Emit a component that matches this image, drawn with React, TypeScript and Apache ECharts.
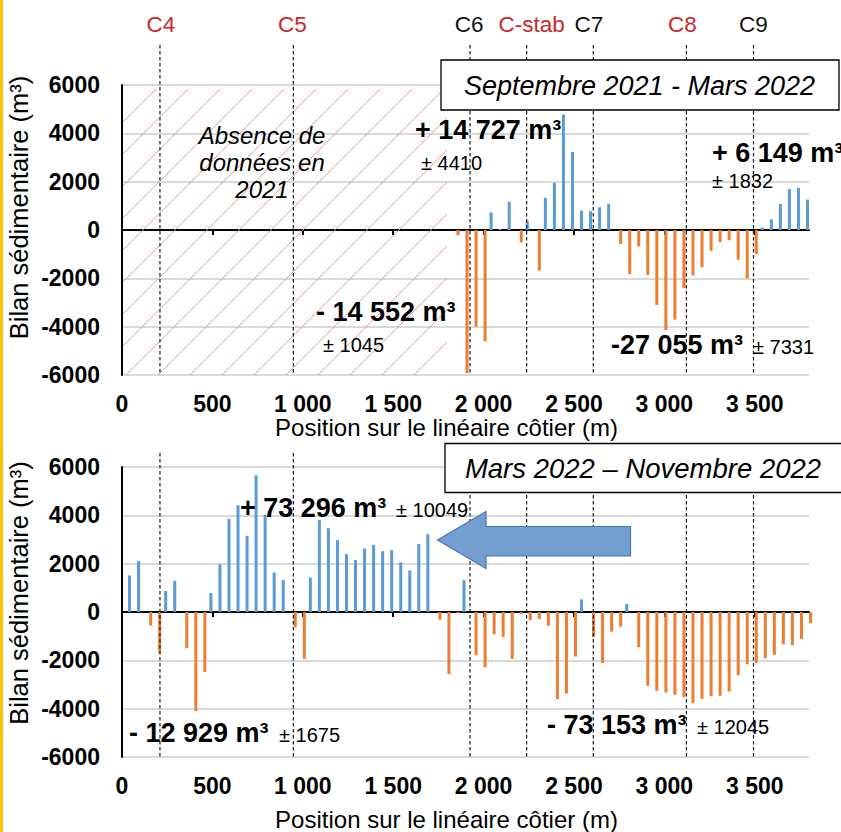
import React, { useEffect, useRef } from 'react';
import * as echarts from 'echarts';

// ---------- data ----------
const xTickValues = [0, 500, 1000, 1500, 2000, 2500, 3000, 3500];
const yMin = -6000;
const yMax = 6000;
const yInterval = 2000;

const profileNames = ['C4', 'C5', 'C6', 'C-stab', 'C7', 'C8', 'C9'];
const profilePositions = [210, 948, 1925, 2238, 2607, 3122, 3493];
const profileIsRed = [true, true, false, true, false, true, false];
const profileLabelShift = [1, -1, -1, 5, -4.5, -4, 0];

const noDataRange = [0, 1800];

// Septembre 2021 - Mars 2022
const positions1 = [
  1850, 1900, 1950, 2000, 2050, 2100, 2150, 2200, 2250, 2300,
  2350, 2400, 2450, 2500, 2550, 2600, 2650, 2700, 2750, 2800,
  2850, 2900, 2950, 3000, 3050, 3100, 3150, 3200, 3250, 3300,
  3350, 3400, 3450, 3500, 3550, 3600, 3650, 3700, 3750, 3800,
];
const balance1 = [
  -220, -5930, -4000, -4600, 730, 40, 1160, -510, 390, -1680,
  1330, 1950, 4780, 3230, 800, 780, 940, 1080, -580, -1830,
  -680, -1860, -3100, -4140, -3710, -2400, -1880, -1540, -860, -500,
  -420, -1230, -2010, -1000, 100, 440, 1080, 1690, 1745, 1260,
];

// Mars 2022 - Novembre 2022
const positions2 = [
  50, 100, 150, 200, 250, 300, 350, 400, 450, 500,
  550, 600, 650, 700, 750, 800, 850, 900, 950, 1000,
  1050, 1100, 1150, 1200, 1250, 1300, 1350, 1400, 1450, 1500,
  1550, 1600, 1650, 1700, 1750, 1800, 1850, 1900, 1950, 2000,
  2050, 2100, 2150, 2200, 2250, 2300, 2350, 2400, 2450, 2500,
  2550, 2600, 2650, 2700, 2750, 2800, 2850, 2900, 2950, 3000,
  3050, 3100, 3150, 3200, 3250, 3300, 3350, 3400, 3450, 3500,
  3550, 3600, 3650, 3700, 3750, 3800,
];
const balance2 = [
  1510, 2105, -564, -1692, 867, 1293, -1500, -4100, -2477, 784,
  1968, 3853, 4417, 3151, 5655, 4018, 1637, 1321, -633, -1940,
  1431, 3812, 3468, 2972, 2394, 2147, 2628, 2780, 2518, 2559,
  2050, 1720, 2807, 3220, -320, -2565, -55, 1320, -1780, -2285,
  -920, -1030, -1940, -96, -344, -289, -564, -3606, -3372, -1844,
  523, -1032, -2106, -812, -605, 330, -1459, -3055, -3262, -3331,
  -3427, -3523, -3771, -3592, -3482, -3468, -3289, -2615, -2161, -2106,
  -1913, -1775, -1335, -1376, -1115, -468,
];

// ---------- styling ----------
const FONT = '"Liberation Sans", Arial, sans-serif';
const BLUE = '#5b9bd5';
const ORANGE = '#ed7d31';
const RED = '#c8282a';
const HATCH = '#f29a9a';

const fmtX = (v: number) => {
  if (!xTickValues.includes(v)) return '';
  if (v >= 1000) return `${Math.floor(v / 1000)} ${String(v % 1000).padStart(3, '0')}`;
  return String(v);
};

const splitSign = (pos: number[], vals: number[], positive: boolean) =>
  pos.map((p, i) => [p, vals[i]]).filter((d) => (positive ? d[1] >= 0 : d[1] < 0));

const makeXAxes = (gridIndex: number) => [
  {
    gridIndex,
    type: 'value',
    position: 'bottom',
    min: 0,
    max: 3800,
    interval: 500,
    axisLine: { show: false, onZero: false },
    axisTick: { show: false },
    splitLine: { show: false },
    axisLabel: {
      show: true,
      customValues: xTickValues,
      formatter: fmtX,
      margin: 17,
      fontSize: 23,
      fontWeight: 'bold',
      color: '#000',
      fontFamily: FONT,
    },
  },
  {
    gridIndex,
    type: 'value',
    position: 'top',
    min: 0,
    max: 3800,
    interval: 500,
    axisLine: { show: true, onZero: true, lineStyle: { color: '#000', width: 2 } },
    axisTick: {
      show: true,
      inside: true,
      length: 5,
      customValues: xTickValues.slice(1),
      lineStyle: { color: '#000', width: 2 },
    },
    axisLabel: { show: false },
    splitLine: { show: false },
  },
];

const makeYAxis = (gridIndex: number) => ({
  gridIndex,
  type: 'value',
  min: yMin,
  max: yMax,
  interval: yInterval,
  axisLine: { show: true, onZero: false, lineStyle: { color: '#000', width: 2 } },
  axisTick: { show: false },
  axisLabel: {
    margin: 22,
    fontSize: 23,
    fontWeight: 'bold',
    color: '#000',
    fontFamily: FONT,
    formatter: (v: number) => String(v),
  },
  splitLine: { show: true, lineStyle: { color: '#d9d9d9', width: 2 } },
});

const profileRender = (ext: number, showLabel: boolean) => (params: any, api: any) => {
  const x = api.value(0);
  const top = api.coord([x, yMax]);
  const bot = api.coord([x, yMin]);
  const i = params.dataIndex;
  const children: any[] = [
    {
      type: 'line',
      shape: { x1: top[0], y1: top[1] - ext, x2: bot[0], y2: bot[1] },
      style: { stroke: '#1a1a1a', lineWidth: 1.2, lineDash: [3.5, 2.5] },
    },
  ];
  if (showLabel) {
    children.push({
      type: 'text',
      x: top[0] + profileLabelShift[i],
      y: top[1] - 61,
      style: {
        text: profileNames[i],
        fill: profileIsRed[i] ? RED : '#111',
        font: `22.5px ${FONT}`,
        align: 'center',
        verticalAlign: 'middle',
        textAlign: 'center',
        textVerticalAlign: 'middle',
      },
    });
  }
  return { type: 'group', children };
};

const txt = (text: string, x: number, y: number, font: string, align = 'left', extra: any = {}) => ({
  type: 'text',
  x,
  y,
  z: 101,
  ...extra,
  style: {
    text,
    font,
    fill: '#000',
    align,
    verticalAlign: 'middle',
    textAlign: align,
    textVerticalAlign: 'middle',
  },
});

const BOLD = `bold 27px ${FONT}`;
const SMALL = `20px ${FONT}`;

const baseGraphic: any[] = [
  { type: 'rect', shape: { x: 0, y: 0, width: 3, height: 832 }, style: { fill: '#ffc000' }, z: 100 },
  // axis titles
  txt('Bilan sédimentaire (m³)', 18.7, 207.5, `25.5px ${FONT}`, 'center', { rotation: Math.PI / 2 }),
  txt('Bilan sédimentaire (m³)', 19, 593, `25.5px ${FONT}`, 'center', { rotation: Math.PI / 2 }),
  txt('Position sur le linéaire côtier (m)', 446.5, 427, `24px ${FONT}`, 'center'),
  txt('Position sur le linéaire côtier (m)', 446.5, 819.5, `24px ${FONT}`, 'center'),
  // period boxes
  { type: 'rect', shape: { x: 441, y: 60, width: 398, height: 50 }, style: { fill: '#fff', stroke: '#000', lineWidth: 1.3 }, z: 100 },
  txt('Septembre 2021 - Mars 2022', 639.5, 85.5, `italic 27px ${FONT}`, 'center'),
  { type: 'rect', shape: { x: 445, y: 443.5, width: 400, height: 49 }, style: { fill: '#fff', stroke: '#000', lineWidth: 1.3 }, z: 100 },
  txt('Mars 2022 – Novembre 2022', 643, 468, `italic 27.5px ${FONT}`, 'center'),
  // no data note
  txt('Absence de', 262, 135, `italic 24px ${FONT}`, 'center'),
  txt('données en', 262, 162, `italic 24px ${FONT}`, 'center'),
  txt('2021', 262, 189, `italic 24px ${FONT}`, 'center'),
  // top panel volumes
  txt('+ 14 727 m³', 415, 130, BOLD),
  txt('± 4410', 421, 163, SMALL),
  txt('- 14 552 m³', 316, 312, BOLD),
  txt('± 1045', 323, 345, SMALL),
  txt('+ 6 149 m³', 712, 153, BOLD),
  txt('± 1832', 712, 180.5, SMALL),
  txt('-27 055 m³', 611, 345, BOLD),
  txt('± 7331', 753, 347, SMALL),
  // bottom panel volumes
  txt('+ 73 296 m³', 240, 508, BOLD),
  txt('± 10049', 396, 510, SMALL),
  txt('- 12 929 m³', 129, 733, BOLD),
  txt('± 1675', 279, 735, SMALL),
  txt('- 73 153 m³', 547, 725, BOLD),
  txt('± 12045', 697, 727, SMALL),
  // arrow
  {
    type: 'polygon',
    z: 100,
    shape: {
      points: [
        [437.5, 540],
        [486, 511.5],
        [486, 526.5],
        [630.5, 526.5],
        [630.5, 556],
        [486, 556],
        [486, 568.5],
      ],
    },
    style: { fill: '#729fcf', stroke: '#4a78b0', lineWidth: 1.2 },
  },
];

export default function App() {
  const ref = useRef<HTMLDivElement>(null);

  useEffect(() => {
    if (!ref.current) return;
    const chart = echarts.init(ref.current, undefined, { renderer: 'svg' });

    const option: any = {
      animation: false,
      backgroundColor: '#fff',
      grid: [
        { left: 122, top: 85, width: 687, height: 290, outerBoundsMode: 'none', containLabel: false },
        { left: 122, top: 467, width: 687, height: 290, outerBoundsMode: 'none', containLabel: false },
      ],
      xAxis: [...makeXAxes(0), ...makeXAxes(1)],
      yAxis: [makeYAxis(0), makeYAxis(1)],
      series: [
        {
          type: 'bar',
          xAxisIndex: 1,
          yAxisIndex: 0,
          data: splitSign(positions1, balance1, true),
          barWidth: 3,
          barGap: '0%',
          itemStyle: { color: BLUE },
          clip: false,
          z: 2,
        },
        {
          type: 'bar',
          xAxisIndex: 1,
          yAxisIndex: 0,
          data: splitSign(positions1, balance1, false),
          barWidth: 3,
          barGap: '0%',
          itemStyle: { color: ORANGE },
          clip: false,
          z: 2,
        },
        {
          type: 'bar',
          xAxisIndex: 3,
          yAxisIndex: 1,
          data: splitSign(positions2, balance2, true),
          barWidth: 3,
          barGap: '0%',
          itemStyle: { color: BLUE },
          clip: false,
          z: 2,
        },
        {
          type: 'bar',
          xAxisIndex: 3,
          yAxisIndex: 1,
          data: splitSign(positions2, balance2, false),
          barWidth: 3,
          barGap: '0%',
          itemStyle: { color: ORANGE },
          clip: false,
          z: 2,
        },
        {
          type: 'custom',
          xAxisIndex: 1,
          yAxisIndex: 0,
          data: profilePositions.map((p) => [p, 0]),
          renderItem: profileRender(40, true),
          clip: false,
          silent: true,
          z: 5,
        },
        {
          type: 'custom',
          xAxisIndex: 3,
          yAxisIndex: 1,
          data: profilePositions.map((p) => [p, 0]),
          renderItem: profileRender(14, false),
          clip: false,
          silent: true,
          z: 5,
        },
      ],
      graphic: { elements: baseGraphic },
    };

    chart.setOption(option);

    // hatching of the "no data" zone, placed through the axes' own scale
    const finder = { xAxisIndex: 1, yAxisIndex: 0 };
    const p0 = chart.convertToPixel(finder as any, [noDataRange[0], yMax]) as number[];
    const p1 = chart.convertToPixel(finder as any, [noDataRange[1], yMin]) as number[];
    const xa = Math.round(p0[0]) + 1;
    const xb = Math.round(p1[0]);
    const ya = Math.round(p0[1]) + 4;
    const yb = Math.round(p1[1]);
    const hatch: any[] = [];
    for (let c = xa + ya + 1; c < xb + yb; c += 32) {
      const lo = Math.max(xa, c - yb);
      const hi = Math.min(xb, c - ya);
      if (hi - lo > 1) {
        hatch.push({
          type: 'line',
          z: 1,
          silent: true,
          shape: { x1: lo, y1: c - lo, x2: hi, y2: c - hi },
          style: { stroke: HATCH, lineWidth: 1 },
        });
      }
    }
    chart.setOption({ graphic: { elements: [...baseGraphic, ...hatch] } });

    return () => chart.dispose();
  }, []);

  return (
    <div
      ref={ref}
      style={{ position: 'absolute', left: 0, top: 0, width: 841, height: 832, background: '#fff' }}
    />
  );
}
